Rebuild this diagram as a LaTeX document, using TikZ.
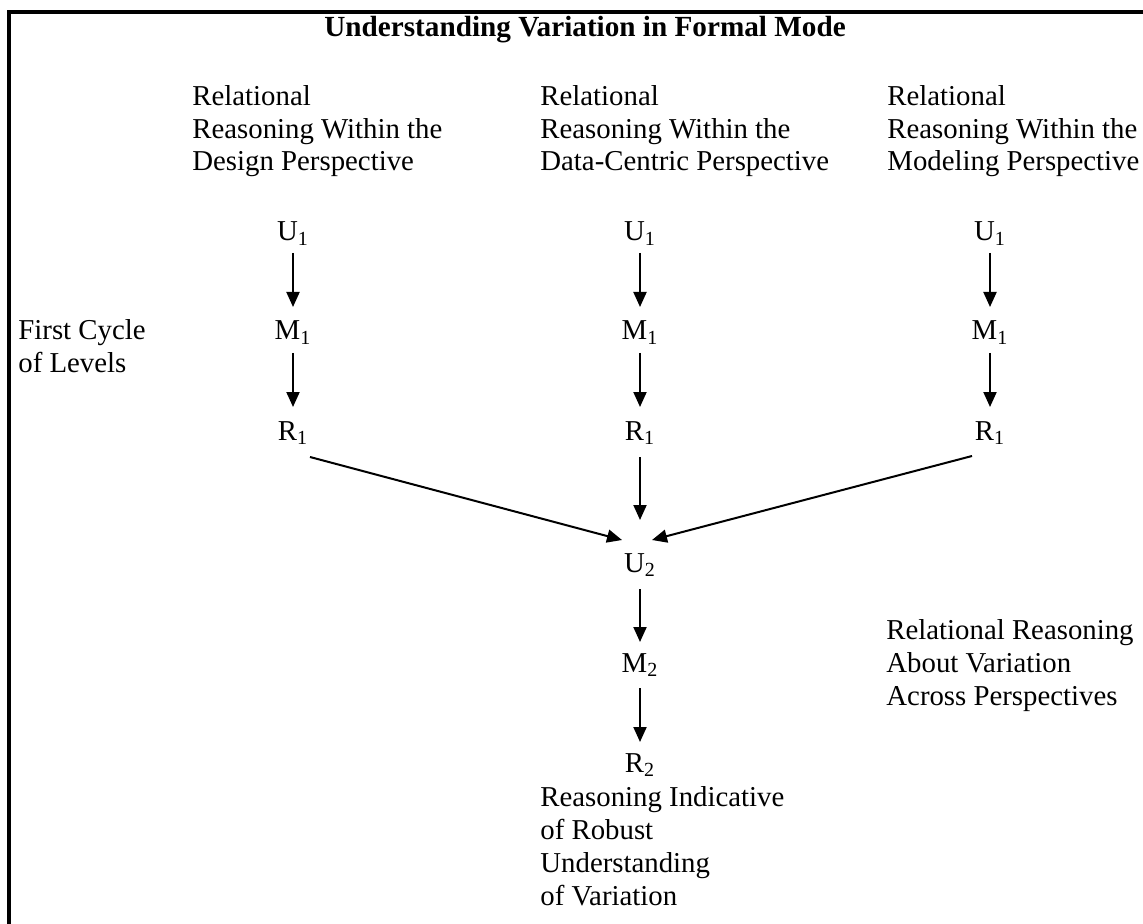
\documentclass[tikz,border=0pt]{standalone}
\usepackage{fontspec}
\setmainfont{Liberation Serif}
\usetikzlibrary{arrows.meta}
\begin{document}
\begin{tikzpicture}[x=0.5pt,y=-0.5pt,
  txt/.style={inner sep=0pt, anchor=base west, align=left, font=\fontsize{14.4}{16.4}\selectfont},
  sym/.style={inner sep=0pt, anchor=base, font=\fontsize{14.4}{16.4}\selectfont},
  arr/.style={line width=1pt, -{Triangle[length=7.5pt,width=6.5pt]}},
  frame/.style={line width=1.6pt}]
\useasboundingbox (0,0) rectangle (1143,924);
\draw[frame] (9,924) -- (9,12) -- (1143,12);
\node[txt, font=\fontsize{14.6}{16.4}\selectfont\bfseries] (title) at (324,37) {Understanding Variation in Formal Mode};
% multi-line nodes: base anchor = baseline of the last line
\node[txt] (h1) at (192,171) {Relational\\Reasoning Within the\\Design Perspective};
\node[txt] (h2) at (540,171) {Relational\\Reasoning Within the\\Data-Centric Perspective};
\node[txt] (h3) at (887,171) {Relational\\Reasoning Within the\\Modeling Perspective};
\node[txt] (cyc) at (18,372) {First Cycle\\of Levels};
\node[txt] (across) at (886,705) {Relational Reasoning\\About Variation\\Across Perspectives};
\node[txt] (robust) at (540,905) {Reasoning Indicative\\of Robust\\Understanding\\of Variation};
% column symbols
\node[sym] (U1a) at (293,241) {U\textsubscript{1}};
\node[sym] (M1a) at (293,340) {M\textsubscript{1}};
\node[sym] (R1a) at (293,440) {R\textsubscript{1}};
\node[sym] (U1b) at (640,241) {U\textsubscript{1}};
\node[sym] (M1b) at (640,340) {M\textsubscript{1}};
\node[sym] (R1b) at (640,440) {R\textsubscript{1}};
\node[sym] (U1c) at (990,241) {U\textsubscript{1}};
\node[sym] (M1c) at (990,340) {M\textsubscript{1}};
\node[sym] (R1c) at (990,440) {R\textsubscript{1}};
\node[sym] (U2) at (640,572) {U\textsubscript{2}};
\node[sym] (M2) at (640,672) {M\textsubscript{2}};
\node[sym] (R2) at (640,772) {R\textsubscript{2}};
% arrows
\foreach \c in {a,b,c}{
  \draw[arr] ([shift={(0,12)}]U1\c.base) -- ([shift={(0,-33)}]M1\c.base);
  \draw[arr] ([shift={(0,13)}]M1\c.base) -- ([shift={(0,-33)}]R1\c.base);
}
\draw[arr] ([shift={(0,17)}]R1b.base) -- ([shift={(0,-52)}]U2.base);
\draw[arr] ([shift={(17,17)}]R1a.base) -- ([shift={(-18,-32)}]U2.base);
\draw[arr] ([shift={(-18,16)}]R1c.base) -- ([shift={(12,-32)}]U2.base);
\draw[arr] ([shift={(0,17)}]U2.base) -- ([shift={(0,-30)}]M2.base);
\draw[arr] ([shift={(0,16)}]M2.base) -- ([shift={(0,-30)}]R2.base);
\end{tikzpicture}
\end{document}
